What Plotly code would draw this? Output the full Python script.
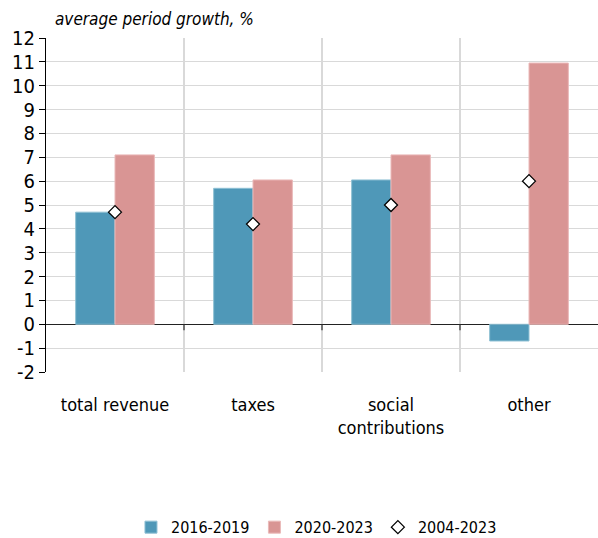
import plotly.graph_objects as go

# Revenue growth by component
categories = ["total revenue", "taxes", "social<br>contributions", "other"]
growth_2016_2019 = [4.7, 5.7, 6.05, -0.7]
growth_2020_2023 = [7.1, 6.05, 7.1, 10.95]
growth_2004_2023 = [4.7, 4.2, 5.0, 6.0]
y_ticks = list(range(-2, 13))

FONT = "DejaVu Sans Condensed"
BLUE = "#4f98b8"
PINK = "#d99594"

x = list(range(len(categories)))

fig = go.Figure()
fig.add_trace(go.Bar(
    x=x, y=growth_2016_2019, name="2016-2019",
    marker=dict(color=BLUE, line=dict(color="#8fc0d4", width=1)),
))
fig.add_trace(go.Bar(
    x=x, y=growth_2020_2023, name="2020-2023",
    marker=dict(color=PINK, line=dict(color="#eab9b8", width=1)),
))
fig.add_trace(go.Scatter(
    x=x, y=growth_2004_2023, name="2004-2023", mode="markers",
    marker=dict(symbol="diamond", size=10, color="white",
                line=dict(color="black", width=1.3)),
))

# small tick marks on the zero line between categories
for b in [0.5, 1.5, 2.5]:
    fig.add_shape(type="line", x0=b, x1=b, y0=0, y1=-0.25,
                  xref="x", yref="y", line=dict(color="#333", width=1.2))

fig.update_layout(
    width=598, height=538,
    margin=dict(l=46, r=0, t=38, b=166),
    plot_bgcolor="white", paper_bgcolor="white",
    barmode="group", bargap=0.43, bargroupgap=0,
    font=dict(family=FONT, size=18, color="black"),
    showlegend=True,
    legend=dict(orientation="h", x=0.49, xanchor="center",
                yref="container", y=0.02, yanchor="middle",
                font=dict(size=16), itemwidth=30, traceorder="normal"),
    annotations=[dict(
        text="<i>average period growth, %</i>", xref="paper", yref="paper",
        x=0.012, y=1.02, xanchor="left", yanchor="bottom", showarrow=False,
        font=dict(family=FONT, size=17),
    )],
)

fig.update_xaxes(
    range=[-0.5, 3.5], tickvals=x, ticktext=categories,
    showgrid=False, ticks="", showline=False, zeroline=False,
    tickfont=dict(size=18), ticklabelstandoff=20,
    minor=dict(tickvals=[0.5, 1.5, 2.5], showgrid=True,
               gridcolor="#d9d9d9", gridwidth=1.5),
)
fig.update_yaxes(
    range=[-2, 12], tickvals=y_ticks, ticktext=[str(v) for v in y_ticks],
    showgrid=True, gridcolor="#d9d9d9",
    gridwidth=1, zeroline=True, zerolinecolor="#222", zerolinewidth=1.2,
    showline=True, linecolor="black", linewidth=1.2,
    ticks="outside", ticklen=6, tickcolor="black",
    tickfont=dict(size=20),
)

fig.write_html("out.html")
